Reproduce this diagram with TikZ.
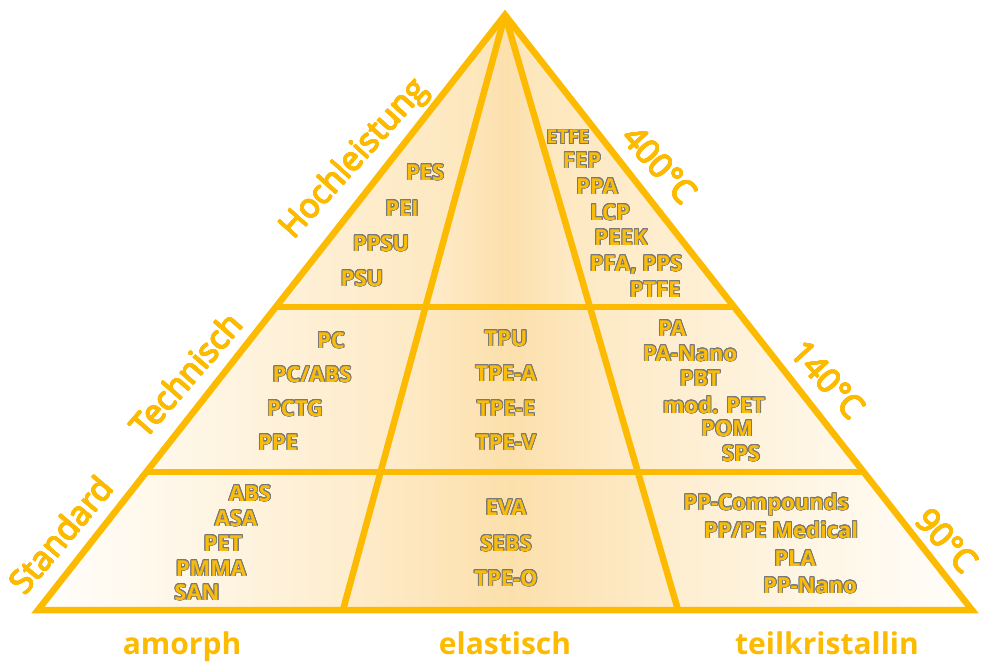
\documentclass[tikz,border=0pt]{standalone}
\usepackage{fontspec}
\setmainfont{Open Sans}
\usepackage{contour}
\contourlength{0.85pt}
\contournumber{20}
\usetikzlibrary{calc}
\definecolor{gold}{RGB}{252,186,0}
\definecolor{txtfill}{RGB}{250,188,10}
\definecolor{olgray}{RGB}{120,120,120}
\definecolor{peachA}{RGB}{254,236,204}
\definecolor{peachB}{RGB}{252,224,172}
\definecolor{peachS}{RGB}{253,229,184}
\definecolor{paleW}{RGB}{255,254,252}
\tikzset{
 edge/.style={draw=gold, line width=6.5pt, line join=miter, line cap=butt},
 midr/.style={left color=peachA, right color=peachA, middle color=peachB},
 mat/.style={text=txtfill, font=\bfseries\fontsize{22}{26}\selectfont, inner sep=0pt, anchor=base},
 matsmall/.style={mat, font=\bfseries\fontsize{19}{22}\selectfont},
 axislbl/.style={text=gold, font=\bfseries\fontsize{30}{36}\selectfont, inner sep=0pt, anchor=base},
 lvl/.style={text=gold, font=\fontsize{33}{40}\selectfont, inner sep=0pt},
}
\newcommand{\mt}[1]{\contour{olgray}{#1}}
\newcommand{\lv}[1]{{\contourlength{0.5pt}\contournumber{16}\contour{gold}{#1}}}
\begin{document}
\begin{tikzpicture}[x=1pt,y=-1pt]
\useasboundingbox (0,0) rectangle (981,663);
% corners
\coordinate (A) at (505,15);
\coordinate (BL) at (38,610);
\coordinate (BR) at (972,610);
\coordinate (IBL) at (343,610);
\coordinate (IBR) at (678,610);
\coordinate (L1) at ($(A)!0.49076!(BL)$);
\coordinate (R1) at ($(A)!0.49076!(BR)$);
\coordinate (IL1) at ($(A)!0.49076!(IBL)$);
\coordinate (IR1) at ($(A)!0.49076!(IBR)$);
\coordinate (L2) at ($(A)!0.76807!(BL)$);
\coordinate (R2) at ($(A)!0.76807!(BR)$);
\coordinate (IL2) at ($(A)!0.76807!(IBL)$);
\coordinate (IR2) at ($(A)!0.76807!(IBR)$);
% fills: left side
\begin{scope}
\clip (A) -- (BL) -- (IBL) -- cycle;
\shade[left color=paleW, right color=peachS] (38,15) rectangle (505,610);
\end{scope}
% right side
\begin{scope}
\clip (A) -- (IBR) -- (BR) -- cycle;
\shade[left color=peachS, right color=paleW] (505,15) rectangle (972,610);
\end{scope}
% middle
\shade[midr] (A) -- (IL1) -- (IR1) -- cycle;
\shade[midr] (IL1) -- (IL2) -- (IR2) -- (IR1) -- cycle;
\shade[midr] (IL2) -- (IBL) -- (IBR) -- (IR2) -- cycle;
% lines
\draw[edge] (L1) -- (R1);
\draw[edge] (L2) -- (R2);
\draw[edge] (A) -- (IBL);
\draw[edge] (A) -- (IBR);
\draw[edge] (A) -- (BL) -- (BR) -- cycle;
% level labels
\node[lvl, rotate=50] (std) at (61,535) {\lv{Standard}};
\node[lvl, rotate=49] (tec) at (186,375) {\lv{Technisch}};
\node[lvl, rotate=48] (hoch) at (355,160) {\lv{Hochleistung}};
\node[lvl, rotate=-48] (t400) at (660,165) {\lv{400°C}};
\node[lvl, rotate=-48] (t140) at (828,380) {\lv{140°C}};
\node[lvl, rotate=-48] (t90) at (947,541) {\lv{90°C}};
% axis labels
\node[axislbl] (amo) at (182,654) {amorph};
\node[axislbl] (ela) at (505,654) {elastisch};
\node[axislbl] (tk) at (827,654) {teilkristallin};
% top left
\node[mat] (pes) at (425,180) {\mt{PES}};
\node[mat] (pei) at (402,216) {\mt{PEI}};
\node[mat] (ppsu) at (381,251) {\mt{PPSU}};
\node[mat] (psu) at (362,286) {\mt{PSU}};
% top right
\node[matsmall] (etfe) at (568,144) {\mt{ETFE}};
\node[mat] (fep) at (582,168) {\mt{FEP}};
\node[mat] (ppa) at (597,194) {\mt{PPA}};
\node[mat] (lcp) at (610,220) {\mt{LCP}};
\node[mat] (peek) at (621,245) {\mt{PEEK}};
\node[mat] (pfa) at (636,271) {\mt{PFA, PPS}};
\node[mat] (ptfe) at (655,297) {\mt{PTFE}};
% middle left
\node[mat] (pc) at (331,348) {\mt{PC}};
\node[mat] (pcabs) at (312,382) {\mt{PC/ABS}};
\node[mat] (pctg) at (295,416) {\mt{PCTG}};
\node[mat] (ppe) at (278,450) {\mt{PPE}};
% middle
\node[mat] (tpu) at (506,346) {\mt{TPU}};
\node[mat] (tpea) at (506,381) {\mt{TPE-A}};
\node[mat] (tpee) at (506,416) {\mt{TPE-E}};
\node[mat] (tpev) at (506,450) {\mt{TPE-V}};
% middle right
\node[mat] (pa) at (672,336) {\mt{PA}};
\node[mat] (panano) at (690,361) {\mt{PA-Nano}};
\node[mat] (pbt) at (700,386) {\mt{PBT}};
\node[mat] (modpet) at (714,413) {\mt{mod. PET}};
\node[mat] (pom) at (727,436) {\mt{POM}};
\node[mat] (sps) at (741,461) {\mt{SPS}};
% bottom left
\node[mat] (abs) at (250,501) {\mt{ABS}};
\node[mat] (asa) at (236,526) {\mt{ASA}};
\node[mat] (pet) at (223,551) {\mt{PET}};
\node[mat] (pmma) at (211,576) {\mt{PMMA}};
\node[mat] (san) at (197,600) {\mt{SAN}};
% bottom middle
\node[mat] (eva) at (506,515) {\mt{EVA}};
\node[mat] (sebs) at (506,551) {\mt{SEBS}};
\node[mat] (tpeo) at (506,586) {\mt{TPE-O}};
% bottom right
\node[mat] (ppc) at (766,510) {\mt{PP-Compounds}};
\node[mat] (pppe) at (781,538) {\mt{PP/PE Medical}};
\node[mat] (pla) at (795,566) {\mt{PLA}};
\node[mat] (ppnano) at (810,593) {\mt{PP-Nano}};
\end{tikzpicture}
\end{document}
